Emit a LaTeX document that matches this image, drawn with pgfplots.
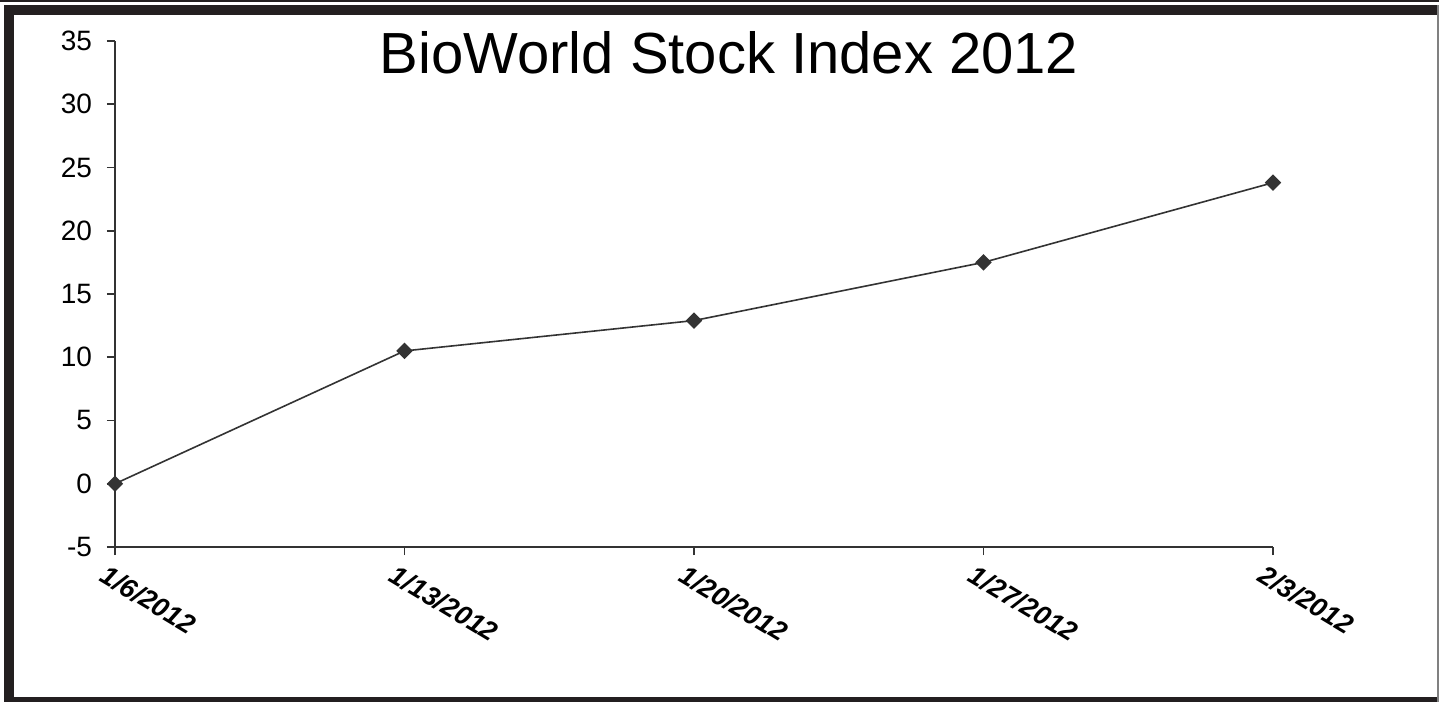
\documentclass[border=0pt]{standalone}
\usepackage{fontspec}
\setmainfont{Liberation Sans}
\usepackage{pgfplots}
\pgfplotsset{compat=1.18}
\definecolor{frame}{HTML}{231F20}
\definecolor{ser}{HTML}{333333}
\begin{document}
\begin{tikzpicture}[x=1pt,y=1pt]
\useasboundingbox (-57.5,-77.5) rectangle (662,273.5);
\fill[white] (-57.5,-77.5) rectangle (662,273.5);
% frame
\fill[frame] (-57.5,273.5) rectangle (662,272.5);
\fill[frame] (-55.5,271) rectangle (662,266);
\fill[frame] (-55.5,271) rectangle (-50.5,-77.5);
\fill[frame] (-55.5,-75) rectangle (662,-77.5);
\fill[gray] (661,271) rectangle (662,-77.5);
\begin{axis}[
  at={(0pt,0pt)}, anchor=south west,
  scale only axis,
  width=579pt, height=253pt,
  xmin=0, xmax=4, ymin=-5, ymax=35,
  axis x line*=bottom, axis y line*=left,
  axis line style={draw=ser, line width=0.9pt},
  tick align=outside,
  major tick length=4pt,
  tick style={draw=ser, line width=0.9pt},
  xtick={0,1,2,3,4},
  xticklabels={1/6/2012,1/13/2012,1/20/2012,1/27/2012,2/3/2012},
  xticklabel style={rotate=-31, anchor=north west, font=\fontsize{13.5pt}{15pt}\selectfont\bfseries\itshape, xshift=-4pt, yshift=-2pt},
  ytick={-5,0,5,10,15,20,25,30,35},
  yticklabel style={font=\fontsize{14pt}{16pt}\selectfont, xshift=-4pt},
  /pgf/number format/assume math mode=true,
  clip=false,
]
\addplot[color=ser, line width=0.8pt, mark=square*, mark size=2.5pt, mark options={fill=ser, draw=ser, rotate=45}]
coordinates {(0,0) (1,10.5) (2,12.9) (3,17.5) (4,23.8)};
\end{axis}
\node[anchor=base, font=\fontsize{29pt}{34pt}\selectfont] at (307,236.5) {BioWorld Stock Index 2012};
\end{tikzpicture}
\end{document}
